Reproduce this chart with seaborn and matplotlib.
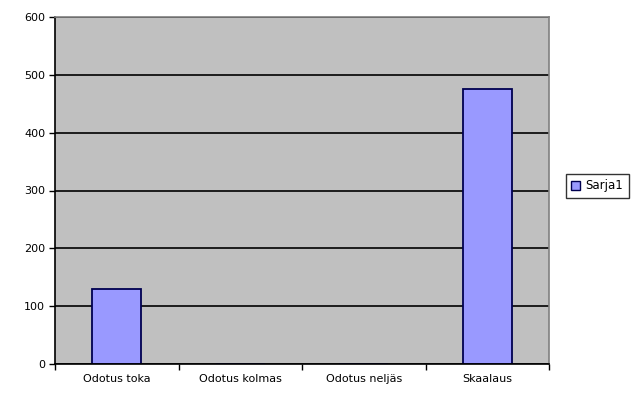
import matplotlib
matplotlib.use("Agg")
import matplotlib.pyplot as plt
import seaborn as sns
import pandas as pd

categories = ["Odotus toka", "Odotus kolmas", "Odotus neljäs", "Skaalaus"]
values = [130, 0, 0, 476]
series_name = "Sarja1"
y_ticks = [0, 100, 200, 300, 400, 500, 600]

df = pd.DataFrame({"kategoria": categories, "arvo": values})

sns.set_style("white")
plt.rcParams["font.family"] = ["DejaVu Sans"]
plt.rcParams["text.color"] = "black"
plt.rcParams["xtick.color"] = "black"
plt.rcParams["ytick.color"] = "black"

fig = plt.figure(figsize=(6.32, 3.96), dpi=100)
ax = fig.add_axes([55 / 632, 1 - 364 / 396, (549 - 55) / 632, (364 - 17) / 396])
ax.set_facecolor("#C0C0C0")

sns.barplot(data=df, x="kategoria", y="arvo", color="#9999FF", width=0.4,
            edgecolor="#000050", linewidth=1.3, saturation=1, label=series_name, ax=ax)

ax.set_ylim(0, 600)
ax.set_xlim(-0.5, 3.5)
ax.set_yticks(y_ticks)
ax.yaxis.grid(True, color="black", linewidth=1.2)
ax.set_axisbelow(True)
ax.set_xlabel("")
ax.set_ylabel("")

ax.tick_params(axis="y", which="major", length=4, width=1, color="black",
               direction="out", labelsize=8, pad=3, left=True, labelcolor="black")
ax.tick_params(axis="x", which="major", length=0, labelsize=8, pad=7, labelcolor="black")
ax.set_xticks([-0.5, 0.5, 1.5, 2.5, 3.5], minor=True)
ax.tick_params(axis="x", which="minor", length=4, width=1, color="black",
               direction="out", bottom=True)

for s in ["left", "bottom"]:
    ax.spines[s].set_color("black")
    ax.spines[s].set_linewidth(1.2)
for s in ["top", "right"]:
    ax.spines[s].set_color("#808080")
    ax.spines[s].set_linewidth(1.2)

leg = ax.legend(loc="center left", bbox_to_anchor=(566 / 632, 1 - 186 / 396),
                bbox_transform=fig.transFigure, frameon=True, fancybox=False,
                fontsize=8.5, handlelength=0.7, handleheight=0.7, handletextpad=0.5,
                borderpad=0.45, borderaxespad=0)
leg.get_frame().set_edgecolor("black")
leg.get_frame().set_linewidth(1)
for h in leg.legend_handles:
    h.set_edgecolor("#000050")
    h.set_linewidth(1)

fig.savefig("out.png", dpi=100, facecolor="white")
